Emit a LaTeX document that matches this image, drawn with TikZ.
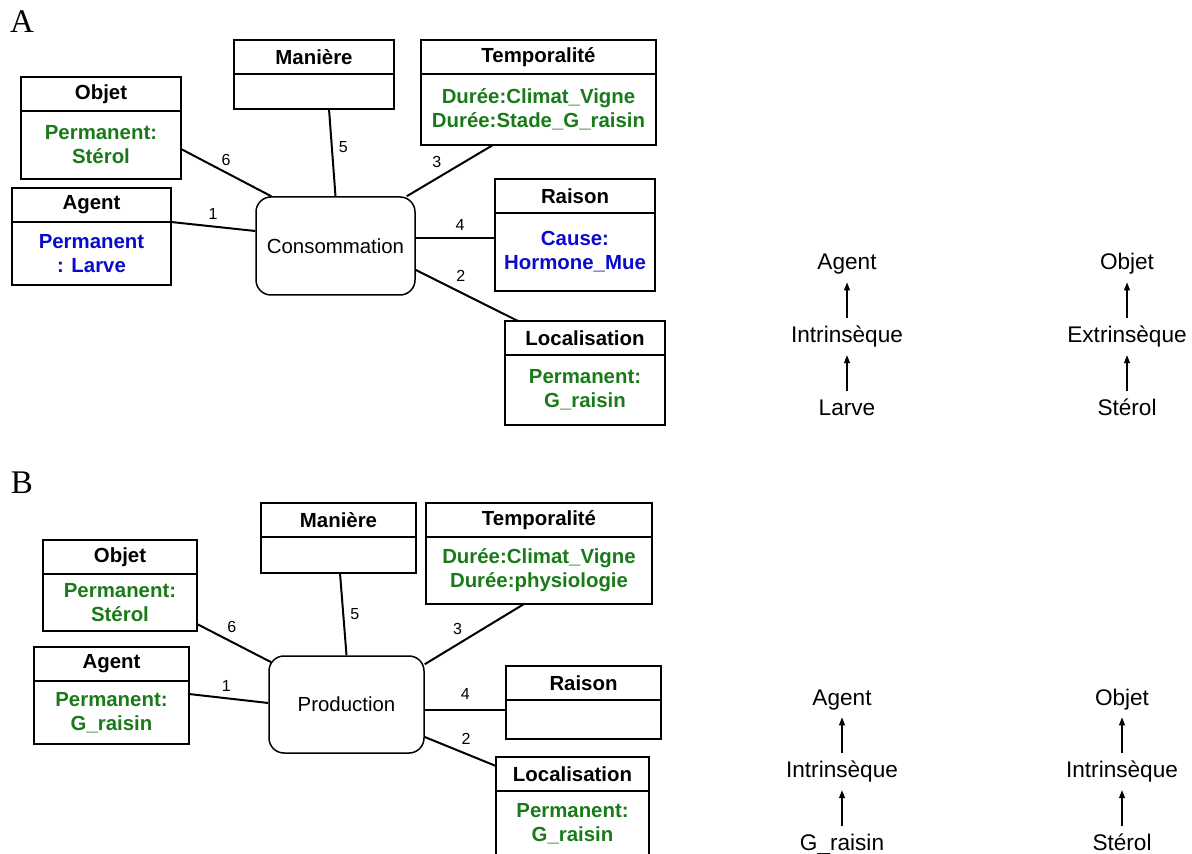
\documentclass[tikz,border=0pt]{standalone}
\usepackage{fontspec}
\setmainfont{Liberation Sans}
\newfontfamily\panelfont{Liberation Serif}
\usetikzlibrary{arrows.meta,positioning}
\definecolor{rolegreen}{HTML}{1A7A1A}
\definecolor{roleblue}{HTML}{0A0ACC}

\begin{document}
\begin{tikzpicture}[x=0.5pt,y=-0.5pt,
  hd/.style={draw, line width=0.75pt, outer sep=0pt, inner sep=0pt,
    font=\fontsize{10.2}{12}\selectfont\bfseries, minimum height=17pt},
  bd/.style={draw, line width=0.75pt, outer sep=0pt, inner sep=0pt, align=center,
    font=\fontsize{10.2}{12}\selectfont\bfseries},
  ev/.style={draw, line width=0.75pt, rounded corners=7.5pt,
    font=\fontsize{10.2}{12}\selectfont},
  lnk/.style={line width=1pt},
  num/.style={font=\fontsize{8}{9}\selectfont, inner sep=3pt},
  lvl/.style={font=\fontsize{11.3}{13}\selectfont, text height=8pt, text depth=2pt, inner sep=0pt},
  up/.style={-{Triangle[length=4pt,width=3pt]}, line width=0.6pt, shorten <=4pt, shorten >=4pt},
  panel/.style={font=\panelfont\fontsize{16.5}{18}\selectfont},
]
\clip (0,0) rectangle (1192,854);
% ================= A =================
\node[panel] (labA) at (22,22) {A};
\node[ev, minimum width=79.5pt, minimum height=49pt] (consA) at (335.5,246) {Consommation};
\node[hd, minimum width=80pt] (manA) at (314,57) {Manière};
\node[bd, minimum width=80pt, minimum height=17.5pt, below=0pt of manA] (manAb) {};
\node[hd, minimum width=80pt] (objA) at (101,94) {Objet};
\node[bd, minimum width=80pt, minimum height=34pt, text=rolegreen, below=0pt of objA] (objAb) {Permanent:\\Stérol};
\node[hd, minimum width=79.5pt] (agtA) at (91.5,205) {Agent};
\node[bd, minimum width=79.5pt, minimum height=31.5pt, text=roleblue, below=0pt of agtA] (agtAb) {Permanent\\: Larve};
\node[hd, minimum width=117.5pt] (tmpA) at (538.5,57) {Temporalité};
\node[bd, minimum width=117.5pt, minimum height=35.5pt, text=rolegreen, below=0pt of tmpA] (tmpAb) {Durée:Climat\_Vigne\\Durée:Stade\_G\_raisin};
\node[hd, minimum width=80pt] (raiA) at (575,196) {Raison};
\node[bd, minimum width=80pt, minimum height=39pt, text=roleblue, below=0pt of raiA] (raiAb) {Cause:\\Hormone\_Mue};
\node[hd, minimum width=80pt] (locA) at (585,338) {Localisation};
\node[bd, minimum width=80pt, minimum height=35pt, text=rolegreen, below=0pt of locA] (locAb) {Permanent:\\G\_raisin};
% --- links ---
\draw[lnk] ([yshift=-2pt]objAb.east) -- node[num,above,pos=0.5] {6} ([xshift=8pt]consA.north west);
\draw[lnk] ([xshift=7.5pt]manAb.south) -- node[num,right,pos=0.44] {5} (consA.north);
\draw[lnk] (agtAb.north east) -- node[num,above,pos=0.5] {1} ([yshift=7.5pt]consA.west);
\draw[lnk] ([xshift=-4.5pt]consA.north east) -- node[num,above=2pt,pos=0.35] {3} ([xshift=-22.75pt]tmpAb.south);
\draw[lnk] ([yshift=4pt]consA.east) -- node[num,above,pos=0.56] {4} ([yshift=4pt]consA.east -| raiAb.west);
\draw[lnk] ([yshift=-12pt]consA.east) -- node[num,above=2pt,pos=0.44] {2} ([xshift=6.5pt]locA.north west);
% --- levels ---
\node[lvl] (agA) at (847,264) {Agent};
\node[lvl, below=26pt of agA] (inA) {Intrinsèque};
\node[lvl, below=26pt of inA] (larA) {Larve};
\node[lvl] (obA) at (1127,264) {Objet};
\node[lvl, below=26pt of obA] (exA) {Extrinsèque};
\node[lvl, below=26pt of exA] (stA) {Stérol};
\draw[up] (inA) -- (agA);
\draw[up] (larA) -- (inA);
\draw[up] (exA) -- (obA);
\draw[up] (stA) -- (exA);
% ================= B =================
\node[panel] (labB) at (22,483) {B};
\node[ev, minimum width=77.5pt, minimum height=48.5pt] (prodB) at (346.5,704.5) {Production};
\node[hd, minimum width=77.5pt] (manB) at (338.5,520) {Manière};
\node[bd, minimum width=77.5pt, minimum height=18pt, below=0pt of manB] (manBb) {};
\node[hd, minimum width=77pt] (objB) at (120,557) {Objet};
\node[bd, minimum width=77pt, minimum height=28.5pt, text=rolegreen, below=0pt of objB] (objBb) {Permanent:\\Stérol};
\node[hd, minimum width=77.5pt] (agtB) at (111.5,664) {Agent};
\node[bd, minimum width=77.5pt, minimum height=31.5pt, text=rolegreen, below=0pt of agtB] (agtBb) {Permanent:\\G\_raisin};
\node[hd, minimum width=113pt] (tmpB) at (539,520) {Temporalité};
\node[bd, minimum width=113pt, minimum height=33.5pt, text=rolegreen, below=0pt of tmpB] (tmpBb) {Durée:Climat\_Vigne\\Durée:physiologie};
\node[hd, minimum width=77.5pt] (raiB) at (583.5,683) {Raison};
\node[bd, minimum width=77.5pt, minimum height=19.5pt, below=0pt of raiB] (raiBb) {};
\node[hd, minimum width=76.5pt] (locB) at (572.5,774) {Localisation};
\node[bd, minimum width=76.5pt, minimum height=32.5pt, text=rolegreen, below=0pt of locB] (locBb) {Permanent:\\G\_raisin};
% --- links ---
\draw[lnk] ([yshift=3.5pt]objBb.south east) -- node[num,above=1pt,pos=0.47] {6} ([shift={(1.5pt,-3.5pt)}]prodB.north west);
\draw[lnk] ([xshift=0.75pt]manBb.south) -- node[num,right,pos=0.5] {5} (prodB.north);
\draw[lnk] ([yshift=-6.5pt]agtBb.north east) -- node[num,above,pos=0.47] {1} ([yshift=0.75pt]prodB.west);
\draw[lnk] ([yshift=-4.5pt]prodB.north east) -- node[num,above=1.5pt,pos=0.33] {3} ([xshift=-7.5pt]tmpBb.south);
\draw[lnk] ([yshift=-2.75pt]prodB.east) -- node[num,above=2pt,pos=0.5] {4} ([yshift=-2.75pt]prodB.east -| raiBb.west);
\draw[lnk] ([yshift=-16.25pt]prodB.east) -- node[num,above=1pt,pos=0.58] {2} ([yshift=-4.5pt]locB.north west);
% --- levels ---
\node[lvl] (agB) at (842,699) {Agent};
\node[lvl, below=26pt of agB] (inB) {Intrinsèque};
\node[lvl, below=26pt of inB] (grB) {G\_raisin};
\node[lvl] (obB) at (1122,699) {Objet};
\node[lvl, below=26pt of obB] (inB2) {Intrinsèque};
\node[lvl, below=26pt of inB2] (stB) {Stérol};
\draw[up] (inB) -- (agB);
\draw[up] (grB) -- (inB);
\draw[up] (inB2) -- (obB);
\draw[up] (stB) -- (inB2);
\end{tikzpicture}
\end{document}
